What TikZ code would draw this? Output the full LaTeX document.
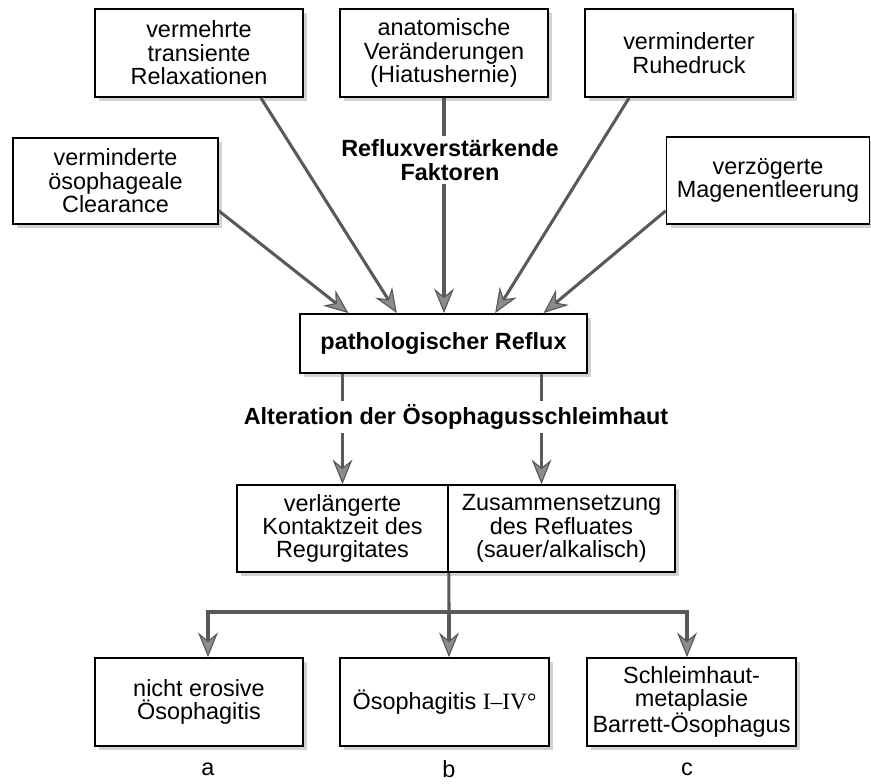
\documentclass[tikz,border=0pt]{standalone}
\usepackage{fontspec}
\setmainfont{Liberation Sans}
\newfontfamily\serifrm{Liberation Serif}
\usetikzlibrary{arrows.meta,shadows}

\begin{document}
\begin{tikzpicture}[
            x=0.03cm, y=-0.03cm,
            font=\fontsize{20}{20}\selectfont,
            box/.style={draw, line width=1.5pt, fill=white, align=center, inner sep=0pt,
                minimum width=6.24cm, minimum height=2.64cm,
                drop shadow={shadow xshift=3.5pt, shadow yshift=-3.5pt, fill=black!35}},
            title/.style={font=\fontsize{20}{20}\selectfont\bfseries, align=center, fill=white, inner sep=3pt},
            arr/.style={draw=black!65, line width=2.6pt,
                -{Stealth[length=21pt, width=17pt, inset=7pt, line width=1pt, fill=black!45]}},
            ln/.style={draw=black!65, line width=2.6pt}
        ]
        \useasboundingbox (0,0) rectangle (871,783);

        % einflussfaktoren
        \node[box] (relax) at (199,53) {vermehrte\\transiente\\Relaxationen};
        \node[box] (anat) at (444,53) {anatomische\\Veränderungen\\(Hiatushernie)};
        \node[box] (ruhe) at (689,53) {verminderter\\Ruhedruck};
        \node[box, minimum width=6.15cm, minimum height=2.58cm] (clear) at (115.5,181) {verminderte\\ösophageale\\Clearance};
        \node[box, minimum width=6.09cm, minimum height=2.61cm] (magen) at (768,180.5) {verzögerte\\Magenentleerung};

        \node[box, minimum width=8.61cm, minimum height=1.77cm, font=\fontsize{20}{20}\selectfont\bfseries] (reflux) at (443.5,343.5) {pathologischer Reflux};

        \draw[arr] ([yshift=0.42cm]clear.south east) -- ([xshift=-2.85cm]reflux.north);
        \draw[arr] ([xshift=-1.29cm]relax.south east) -- ([xshift=-1.4cm]reflux.north);
        \draw[arr] (anat.south) -- (reflux.north -| anat.south);
        \draw[arr] ([xshift=1.35cm]ruhe.south west) -- ([xshift=1.55cm]reflux.north);
        \draw[arr] ([yshift=0.42cm]magen.south west) -- ([xshift=3cm]reflux.north);

        \node[title] (faktoren) at (450,160) {Refluxverstärkende\\Faktoren};

        % schleimhaut
        \node[box, minimum width=6.33cm, minimum height=2.61cm] (kontakt) at (342.5,528.5) {verlängerte\\Kontaktzeit des\\Regurgitates};
        \node[box, minimum width=6.81cm, minimum height=2.61cm] (zusammen) at (561.5,528.5) {Zusammensetzung\\des Refluates\\(sauer/alkalisch)};
        \coordinate (zin) at ([xshift=-0.6cm]zusammen.north);

        \draw[arr] (reflux.south -| kontakt.north) -- (kontakt.north);
        \draw[arr] (reflux.south -| zin) -- (zin);

        \node[title] (alteration) at (456,417) {Alteration der Ösophagusschleimhaut};

        % folgen
        \node[box] (nerosiv) at (199,702) {nicht erosive\\Ösophagitis};
        \node[box, minimum width=6.27cm] (grade) at (444.5,702) {Ösophagitis {\serifrm I–IV°}};
        \node[box, minimum width=6.27cm] (barrett) at (691.5,702) {Schleimhaut-\\metaplasie\\Barrett-Ösophagus};

        \node (lbla) at (208,769) {a};
        \node (lblb) at (449,769) {b};
        \node (lblc) at (687,769) {c};

        \coordinate (split) at (449,612);
        \draw[ln] (kontakt.south east) -- (split);
        \draw[arr] (split) -| (nerosiv.north -| lbla);
        \draw[arr] (split) -- (grade.north -| lblb);
        \draw[arr] (split) -| (barrett.north -| lblc);
    \end{tikzpicture}
\end{document}
